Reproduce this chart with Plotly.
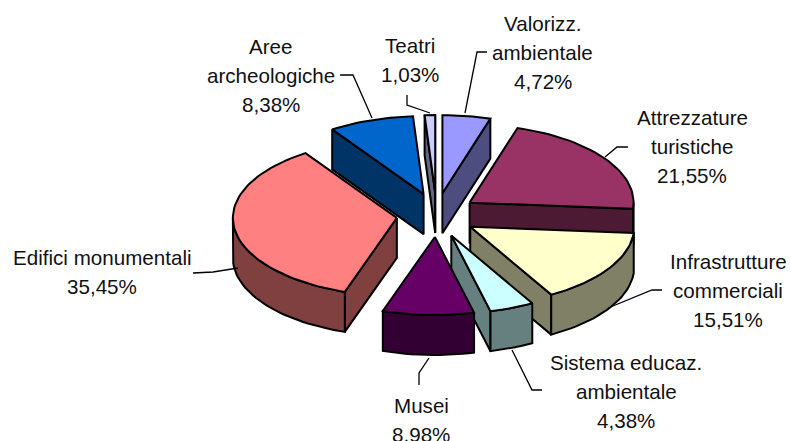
import math
import plotly.graph_objects as go

categories = ["Valorizz.\nambientale", "Attrezzature\nturistiche", "Infrastrutture\ncommerciali",
              "Sistema educaz.\nambientale", "Musei", "Edifici monumentali",
              "Aree\narcheologiche", "Teatri"]
values = [4.72, 21.55, 15.51, 4.38, 8.98, 35.45, 8.38, 1.03]
value_labels = ["4,72%", "21,55%", "15,51%", "4,38%", "8,98%", "35,45%", "8,38%", "1,03%"]
top_colors = ["#9999FF", "#993366", "#FFFFCC", "#CCFFFF", "#660066", "#FF8080", "#0066CC", "#CCCCFF"]
side_colors = ["#4D4D80", "#4D1A33", "#808066", "#668080", "#330033", "#804040", "#003366", "#666680"]
draw_order = [0, 7, 6, 5, 1, 2, 3, 4]

CX, CY, RX, RY, DEPTH, EX, EY = 436.5, 215, 164, 78, 40, 40, 22

label_x = [542.5, 692, 728, 626, 421, 102, 271, 410]
label_y = [23, 117, 261, 362, 405, 257, 46, 45]
line_gap = 29.3
leaders = [
    [(465, 113), (477, 52), (487, 52)],
    [(605, 157), (617, 147), (628, 147)],
    [(608, 308), (652, 290), (662, 290)],
    [(512, 350), (532, 390), (542, 390)],
    [(429, 358), (419, 373), (419, 385)],
    [(238, 268), (213, 272), (193, 273)],
    [(372, 118), (353, 75), (340, 75)],
    [(430, 113), (407, 105), (407, 95)],
]

fig = go.Figure()

def poly(pts, fill):
    fig.add_trace(go.Scatter(
        x=[p[0] for p in pts] + [pts[0][0]], y=[p[1] for p in pts] + [pts[0][1]],
        mode="lines", fill="toself", fillcolor=fill,
        line=dict(color="black", width=2), hoverinfo="skip", showlegend=False))

total = sum(values)
starts, s = [], 0.0
for v in values:
    starts.append(s)
    s += v / total * 360

for i in draw_order:
    a = starts[i]
    b = a + values[i] / total * 360
    mid = math.radians((a + b) / 2)
    ax = CX + EX * math.sin(mid)
    ay = CY - EY * math.cos(mid)

    def rim(t, dz=0):
        r = math.radians(t)
        return (ax + RX * math.sin(r), ay - RY * math.cos(r) + dz)

    def arc(t0, t1, dz=0):
        n = max(2, int((t1 - t0) / 2) + 1)
        return [rim(t0 + (t1 - t0) * k / (n - 1), dz) for k in range(n)]

    # radial walls facing the viewer
    if math.sin(math.radians(a)) < 0:
        poly([(ax, ay), rim(a), rim(a, DEPTH), (ax, ay + DEPTH)], side_colors[i])
    if math.sin(math.radians(b)) > 0:
        poly([(ax, ay), rim(b), rim(b, DEPTH), (ax, ay + DEPTH)], side_colors[i])
    # outer wall where the rim faces the viewer
    lo, hi = max(a, 90), min(b, 270)
    if hi > lo:
        poly(arc(lo, hi) + arc(lo, hi, DEPTH)[::-1], side_colors[i])
    # top face
    poly([(ax, ay)] + arc(a, b), top_colors[i])

for pts in leaders:
    fig.add_trace(go.Scatter(x=[p[0] for p in pts], y=[p[1] for p in pts], mode="lines",
                             line=dict(color="black", width=1.3), hoverinfo="skip", showlegend=False))

for c, v, x, y in zip(categories, value_labels, label_x, label_y):
    lines = c.split("\n") + [v]
    for k, t in enumerate(lines):
        fig.add_annotation(x=x, y=y + k * line_gap, text=t, showarrow=False, xanchor="center",
                           yanchor="middle", font=dict(family="Liberation Sans", size=20.6, color="#111111"))

fig.update_layout(width=791, height=441, margin=dict(l=0, r=0, t=0, b=0),
                  paper_bgcolor="white", plot_bgcolor="white", showlegend=False,
                  xaxis=dict(range=[0, 791], visible=False, fixedrange=True),
                  yaxis=dict(range=[441, 0], visible=False, fixedrange=True))
fig.write_html("out.html", config={"displayModeBar": False, "responsive": False},
               post_script="document.body.style.margin='0';")
